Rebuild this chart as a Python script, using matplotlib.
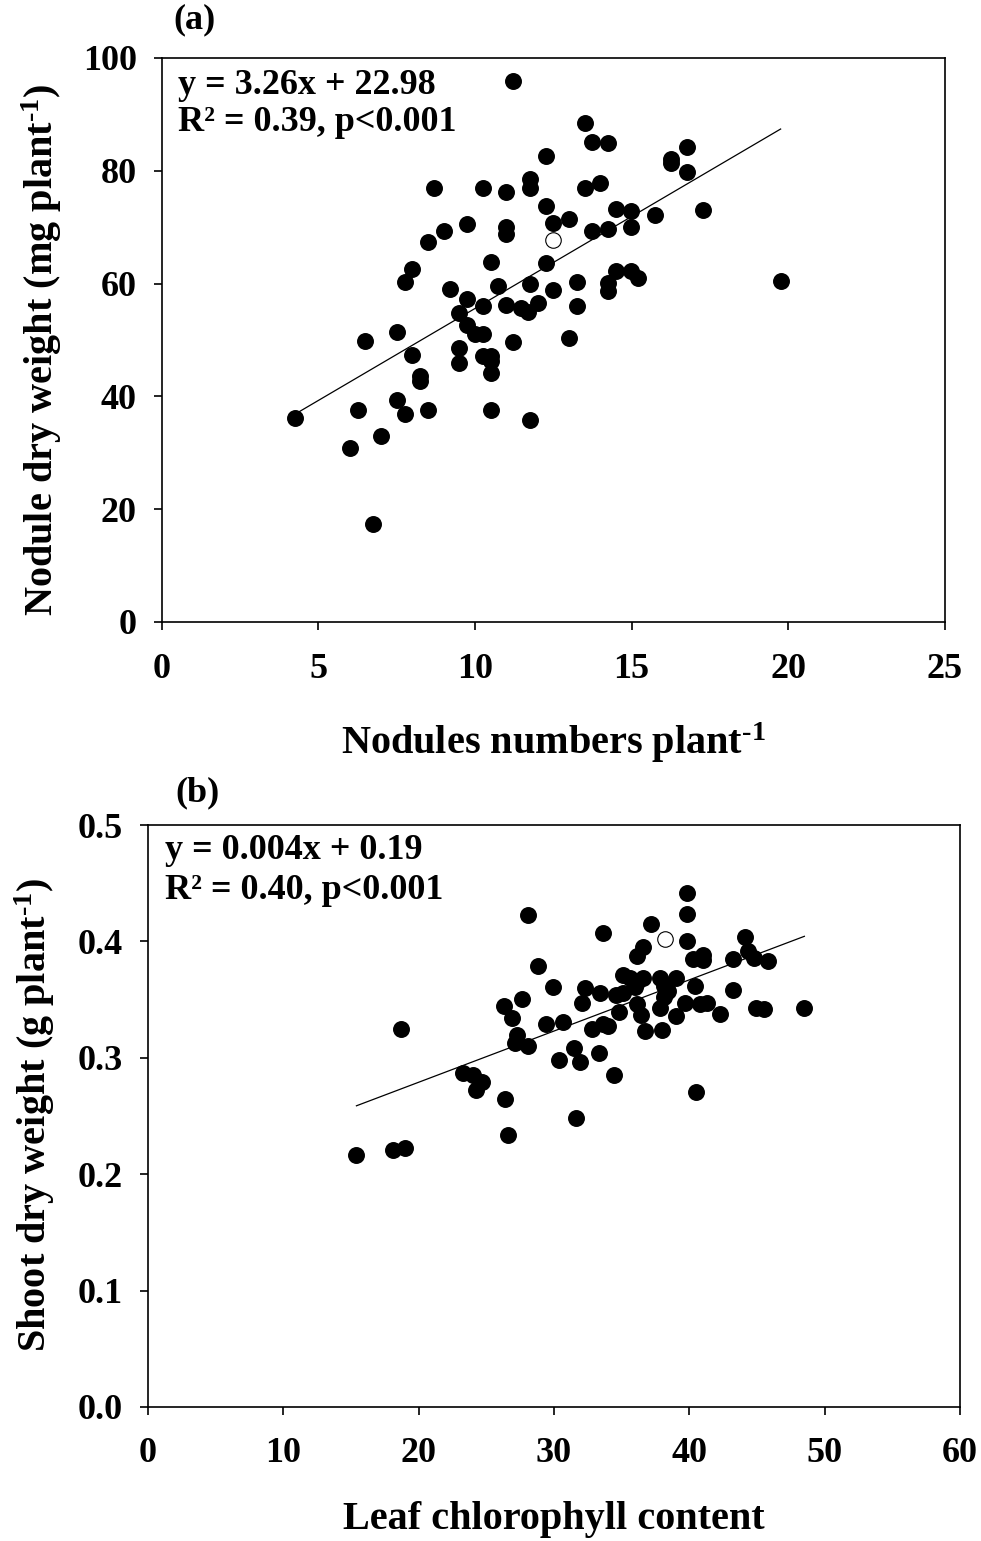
#!/usr/bin/env python3

import matplotlib
matplotlib.use('Agg')
import numpy as np
from matplotlib import pyplot as plt

# ---------------------------------------------------------------------------
# panel (a): nodules numbers vs nodule dry weight
# ---------------------------------------------------------------------------
nod_num = [4.25, 6.0, 6.26, 6.5, 6.74, 7.0, 7.5, 7.5, 7.76, 7.76, 8.0, 8.0,
           8.24, 8.24, 8.5, 8.5, 8.7, 9.0, 9.2, 9.5, 9.5, 9.5, 9.74, 9.74,
           9.74, 10.0, 10.25, 10.25, 10.25, 10.25, 10.5, 10.5, 10.5, 10.5,
           10.5, 10.73, 11.0, 11.0, 11.0, 11.0, 11.2, 11.2, 11.46, 11.7,
           11.75, 11.75, 11.75, 11.75, 12.0, 12.26, 12.26, 12.26, 12.5,
           12.5, 13.0, 13.0, 13.25, 13.25, 13.5, 13.5, 13.73, 13.73, 14.0,
           14.24, 14.24, 14.24, 14.24, 14.5, 14.5, 14.97, 14.97, 14.97,
           15.2, 15.74, 16.25, 16.25, 16.76, 16.76, 17.27, 19.76]
nod_wt  = [36.1, 30.8, 37.5, 49.8, 17.4, 32.9, 51.4, 39.3, 60.3, 36.8, 62.6,
           47.3, 43.6, 42.7, 67.4, 37.5, 76.9, 69.4, 59.1, 54.8, 48.6, 45.9,
           70.5, 57.3, 52.7, 51.1, 76.9, 56.0, 51.1, 47.2, 63.9, 47.2, 46.3,
           44.1, 37.5, 59.6, 76.3, 70.1, 68.7, 56.2, 95.9, 49.6, 55.7, 55.0,
           78.6, 77.0, 60.0, 35.8, 56.6, 82.6, 73.7, 63.7, 70.8, 58.9, 71.4,
           50.4, 60.3, 56.0, 88.4, 77.0, 85.1, 69.4, 77.9, 84.9, 69.6, 60.1,
           58.7, 73.3, 62.3, 72.8, 70.1, 62.3, 60.9, 72.2, 82.0, 81.3, 84.2,
           79.7, 73.0, 60.5]
nod_open = (12.5, 67.8)
fit_a = (3.26, 22.98)

# ---------------------------------------------------------------------------
# panel (b): leaf chlorophyll vs shoot dry weight
# ---------------------------------------------------------------------------
chl = [15.4, 18.1, 19.0, 18.7, 23.3, 24.0, 24.7, 24.2, 26.4, 26.6, 26.3,
       27.6, 26.9, 27.3, 27.1, 28.1, 28.1, 28.8, 29.4, 29.9, 30.4, 30.7,
       31.5, 31.6, 31.9, 32.1, 32.3, 32.8, 33.3, 33.4, 33.6, 33.6, 34.0,
       34.4, 34.6, 34.8, 35.1, 35.1, 35.6, 36.0, 36.1, 36.1, 36.1, 36.4,
       36.6, 36.6, 36.7, 37.2, 37.8, 37.8, 38.0, 38.1, 38.1, 38.4, 39.0,
       39.0, 39.7, 39.8, 39.8, 39.8, 40.3, 40.4, 40.5, 40.8, 41.0, 41.0,
       41.3, 42.3, 43.2, 43.2, 44.1, 44.3, 44.8, 44.9, 45.5, 45.8, 48.5]
shoot = [0.2165, 0.221, 0.2225, 0.325, 0.287, 0.285, 0.279, 0.272, 0.2646,
         0.2337, 0.3445, 0.3505, 0.334, 0.3196, 0.3127, 0.4227, 0.310,
         0.379, 0.329, 0.361, 0.298, 0.331, 0.308, 0.248, 0.296, 0.347,
         0.360, 0.3247, 0.304, 0.3557, 0.407, 0.329, 0.327, 0.285, 0.354,
         0.339, 0.3557, 0.371, 0.3686, 0.361, 0.365, 0.346, 0.3875, 0.337,
         0.395, 0.369, 0.323, 0.415, 0.369, 0.343, 0.324, 0.362, 0.352,
         0.357, 0.3686, 0.336, 0.347, 0.4416, 0.4235, 0.400, 0.385, 0.362,
         0.2706, 0.346, 0.388, 0.384, 0.347, 0.338, 0.385, 0.358, 0.4038,
         0.392, 0.3857, 0.343, 0.342, 0.383, 0.343]
chl_open = (38.2, 0.402)
fit_b = (0.0044, 0.191)

plt.rcParams['font.family'] = 'Liberation Serif'
plt.rcParams['font.weight'] = 'bold'
plt.rcParams['mathtext.fontset'] = 'custom'
plt.rcParams['mathtext.bf'] = 'Liberation Serif:bold'
plt.rcParams['mathtext.rm'] = 'Liberation Serif:bold'
plt.rcParams['mathtext.default'] = 'bf'

TICK_FS  = 26
LABEL_FS = 29
EQ_FS    = 26

fig = plt.figure(figsize=(9.81, 15.41), dpi=100)

ax_a = fig.add_axes([0.165, 0.5964, 0.798, 0.366])
ax_b = fig.add_axes([0.1509, 0.087, 0.8277, 0.3776])


def style_axes(ax):
    for sp in ax.spines.values():
        sp.set_linewidth(1.2)
    ax.tick_params(direction='out', length=6, width=1.2, labelsize=TICK_FS)
    ax.tick_params(axis='x', pad=16)
    ax.tick_params(axis='y', pad=12)
    for lbl in ax.get_xticklabels() + ax.get_yticklabels():
        lbl.set_fontweight('bold')


def place_labels(ax, xl, yl, xpos, ypos):
    ax.set_xlabel(xl, fontsize=LABEL_FS, fontweight='bold')
    ax.set_ylabel(yl, fontsize=LABEL_FS, fontweight='bold')
    ax.xaxis.set_label_coords(*xpos)
    ax.yaxis.set_label_coords(*ypos)
    ax.xaxis.label.set_va('center')
    ax.yaxis.label.set_va('center')


# (a)
ax_a.scatter(nod_num, nod_wt, s=125, c='black', edgecolors='black', zorder=3)
ax_a.scatter([nod_open[0]], [nod_open[1]], s=125, facecolors='white',
             edgecolors='black', linewidths=0.8, zorder=3)
xa = np.array([min(nod_num), max(nod_num)])
ax_a.plot(xa, fit_a[0] * xa + fit_a[1], color='black', lw=0.9, zorder=2)
ax_a.set_xlim(0, 25)
ax_a.set_ylim(0, 100)
ax_a.set_xticks(range(0, 26, 5))
ax_a.set_yticks(range(0, 101, 20))
style_axes(ax_a)
place_labels(ax_a, r'Nodules numbers plant$^{\text{-1}}$',
             r'Nodule dry weight (mg plant$^{\text{-1}}$)',
             (0.5006, -0.2145), (-0.153, 0.482))
ax_a.text(0.0204, 0.952, 'y = 3.26x + 22.98', transform=ax_a.transAxes,
          va='center', ha='left', fontsize=EQ_FS, fontweight='bold')
ax_a.text(0.0204, 0.885, 'R\u00b2 = 0.39, p<0.001', transform=ax_a.transAxes,
          va='center', ha='left', fontsize=EQ_FS, fontweight='bold')
fig.text(0.177, 0.987, '(a)', fontsize=EQ_FS, fontweight='bold', va='center')

# (b)
ax_b.scatter(chl, shoot, s=125, c='black', edgecolors='black', zorder=3)
ax_b.scatter([chl_open[0]], [chl_open[1]], s=125, facecolors='white',
             edgecolors='black', linewidths=0.8, zorder=3)
xb = np.array([min(chl), max(chl)])
ax_b.plot(xb, fit_b[0] * xb + fit_b[1], color='black', lw=0.9, zorder=2)
ax_b.set_xlim(0, 60)
ax_b.set_ylim(0, 0.5)
ax_b.set_xticks(range(0, 61, 10))
ax_b.set_yticks(np.arange(0, 0.51, 0.1))
ax_b.set_yticklabels(['%.1f' % v for v in np.arange(0, 0.51, 0.1)])
style_axes(ax_b)
place_labels(ax_b, 'Leaf chlorophyll content',
             r'Shoot dry weight (g plant$^{\text{-1}}$)',
             (0.5, -0.194), (-0.139, 0.502))
ax_b.text(0.021, 0.957, 'y = 0.004x + 0.19', transform=ax_b.transAxes,
          va='center', ha='left', fontsize=EQ_FS, fontweight='bold')
ax_b.text(0.021, 0.888, 'R\u00b2 = 0.40, p<0.001', transform=ax_b.transAxes,
          va='center', ha='left', fontsize=EQ_FS, fontweight='bold')
fig.text(0.179, 0.4854, '(b)', fontsize=EQ_FS, fontweight='bold', va='center')

fig.savefig('out.png', dpi=100)
